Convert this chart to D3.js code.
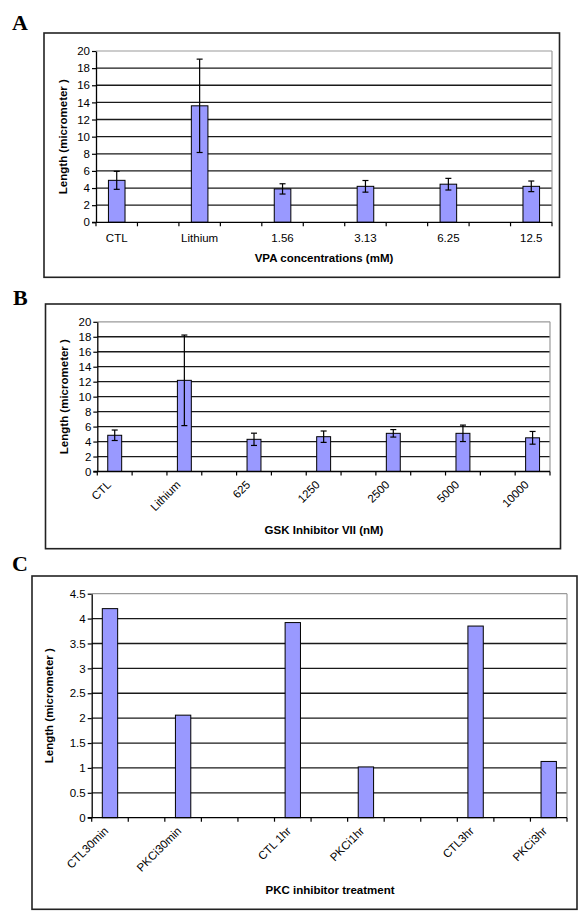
<!DOCTYPE html>
<html>
<head>
<meta charset="utf-8">
<script src="https://cdn.jsdelivr.net/npm/d3@7"></script>
<style>
  html, body { margin: 0; padding: 0; background: #fff; }
  svg { display: block; }
  text { font-family: "Liberation Sans", Arial, sans-serif; fill: #000; }
</style>
</head>
<body>
<svg id="chart" width="582" height="921"></svg>
<script>
// ---------- DATA ----------
// Panel A (blank categories are empty slots in the original spreadsheet)
const catsA = ["CTL", "", "Lithium", "", "1.56", "", "3.13", "", "6.25", "", "12.5"];
const meansA = [4.9, null, 13.6, null, 3.9, null, 4.2, null, 4.45, null, 4.2];
const errA   = [1.05, null, 5.45, null, 0.6, null, 0.68, null, 0.68, null, 0.62];
const yTicksA = [0, 2, 4, 6, 8, 10, 12, 14, 16, 18, 20];

// Panel B
const catsB = ["CTL", "", "Lithium", "", "625", "", "1250", "", "2500", "", "5000", "", "10000"];
const meansB = [4.84, null, 12.18, null, 4.3, null, 4.65, null, 5.1, null, 5.1, null, 4.5];
const errB   = [0.7, null, 6.05, null, 0.82, null, 0.76, null, 0.5, null, 1.1, null, 0.85];
const yTicksB = [0, 2, 4, 6, 8, 10, 12, 14, 16, 18, 20];

// Panel C
const catsC = ["CTL30min", "", "PKCi30min", "", "", "CTL 1hr", "", "PKCi1hr", "", "", "CTL3hr", "", "PKCi3hr"];
const meansC = [4.2, null, 2.06, null, null, 3.92, null, 1.02, null, null, 3.85, null, 1.13];
const yTicksC = [0, 0.5, 1, 1.5, 2, 2.5, 3, 3.5, 4, 4.5];

const yTitle = "Length (micrometer )";

// ---------- DRAWING ----------
const svg = d3.select("#chart");
const BAR = "#9999ff";

function panel(cfg) {
  const g = svg.append("g");
  const [fx0, fy0, fx1, fy1] = cfg.frame;
  const [px0, py0, px1, py1] = cfg.plot;

  // outer frame
  g.append("rect").attr("x", fx0).attr("y", fy0)
    .attr("width", fx1 - fx0).attr("height", fy1 - fy0)
    .attr("fill", "none").attr("stroke", "#222").attr("stroke-width", 1.6);

  // panel letter
  g.append("text").attr("x", cfg.letterPos[0]).attr("y", cfg.letterPos[1])
    .style("font-family", "'Liberation Serif', 'Times New Roman', serif")
    .style("font-weight", "bold").style("font-size", "22px")
    .text(cfg.letter);

  const yMax = cfg.yTicks[cfg.yTicks.length - 1];
  const y = d3.scaleLinear().domain([0, yMax]).range([py1, py0]);
  const x = d3.scaleBand().domain(d3.range(cfg.cats.length)).range([px0, px1]).paddingInner(0).paddingOuter(0);

  // gridlines
  g.append("g").selectAll("line").data(cfg.yTicks.filter(t => t > 0)).join("line")
    .attr("x1", px0).attr("x2", px1)
    .attr("y1", d => y(d)).attr("y2", d => y(d))
    .attr("stroke", d => d === yMax ? "#9a9a9a" : "#1a1a1a")
    .attr("stroke-width", d => d === yMax ? 1.2 : 1.3);
  // right plot border
  g.append("line").attr("x1", px1).attr("x2", px1).attr("y1", py0).attr("y2", py1)
    .attr("stroke", "#9a9a9a").attr("stroke-width", 1.2);

  // bars
  const bw = x.bandwidth() * cfg.barFrac;
  const idx = d3.range(cfg.cats.length).filter(i => cfg.vals[i] != null);
  g.append("g").selectAll("rect").data(idx).join("rect")
    .attr("x", i => x(i) + (x.bandwidth() - bw) / 2)
    .attr("y", i => y(cfg.vals[i]))
    .attr("width", bw)
    .attr("height", i => y(0) - y(cfg.vals[i]))
    .attr("fill", BAR).attr("stroke", "#000").attr("stroke-width", 1);

  // error bars
  if (cfg.errs) {
    const eg = g.append("g").attr("stroke", "#000").attr("stroke-width", 1.2);
    idx.forEach(i => {
      const cx = x(i) + x.bandwidth() / 2;
      const hi = y(cfg.vals[i] + cfg.errs[i]);
      const lo = y(cfg.vals[i] - cfg.errs[i]);
      eg.append("line").attr("x1", cx).attr("x2", cx).attr("y1", hi).attr("y2", lo);
      eg.append("line").attr("x1", cx - 3).attr("x2", cx + 3).attr("y1", hi).attr("y2", hi);
      eg.append("line").attr("x1", cx - 3).attr("x2", cx + 3).attr("y1", lo).attr("y2", lo);
    });
  }

  // y axis
  const ya = g.append("g").attr("transform", `translate(${px0},0)`)
    .call(d3.axisLeft(y).tickValues(cfg.yTicks).tickFormat(d3.format("~g"))
      .tickSizeInner(4).tickSizeOuter(0).tickPadding(2));
  ya.select(".domain").attr("stroke", "#000").attr("stroke-width", 1.3);
  ya.selectAll(".tick line").attr("stroke", "#000").attr("stroke-width", 1.2);
  ya.selectAll(".tick text").style("font-family", "'Liberation Sans', Arial, sans-serif")
    .style("font-size", "11.5px").attr("fill", "#000");

  // x axis line and ticks at slot boundaries
  g.append("line").attr("x1", px0 - 4).attr("x2", px1).attr("y1", py1).attr("y2", py1)
    .attr("stroke", "#000").attr("stroke-width", 1.3);
  const edges = x.domain().map(i => x(i)).concat([px1]);
  g.append("g").selectAll("line").data(edges).join("line")
    .attr("x1", d => d).attr("x2", d => d).attr("y1", py1).attr("y2", py1 + 4)
    .attr("stroke", "#000").attr("stroke-width", 1.2);

  // category labels
  const lab = d3.range(cfg.cats.length).filter(i => cfg.cats[i] !== "");
  const lg = g.append("g");
  if (cfg.rotate) {
    lg.selectAll("text").data(lab).join("text")
      .attr("transform", i => `translate(${x(i) + x.bandwidth() / 2 + cfg.labOff[0]},${py1 + cfg.labOff[1]}) rotate(-45)`)
      .attr("text-anchor", "end")
      .style("font-size", "11.5px")
      .text(i => cfg.cats[i]);
  } else {
    lg.selectAll("text").data(lab).join("text")
      .attr("x", i => x(i) + x.bandwidth() / 2)
      .attr("y", py1 + cfg.labOff[1])
      .attr("text-anchor", "middle")
      .style("font-size", "11.5px")
      .text(i => cfg.cats[i]);
  }

  // axis titles
  g.append("text").attr("x", cfg.xTitlePos[0]).attr("y", cfg.xTitlePos[1])
    .attr("text-anchor", "middle").style("font-weight", "bold").style("font-size", "11.5px")
    .text(cfg.xTitle);
  g.append("text")
    .attr("transform", `translate(${cfg.yTitleX},${(py0 + py1) / 2}) rotate(-90)`)
    .attr("text-anchor", "middle").style("font-weight", "bold").style("font-size", "11.5px")
    .text(yTitle);
}

panel({
  cats: catsA, vals: meansA, errs: errA, yTicks: yTicksA,
  frame: [44, 33, 559.5, 277.3], plot: [96, 51, 552, 222.3],
  letter: "A", letterPos: [12, 30],
  xTitle: "VPA concentrations (mM)", xTitlePos: [324, 261.5], yTitleX: 67,
  rotate: false, labOff: [0, 20], barFrac: 0.4
});

panel({
  cats: catsB, vals: meansB, errs: errB, yTicks: yTicksB,
  frame: [45.5, 304, 560.5, 548.7], plot: [97.3, 321.8, 550, 471.5],
  letter: "B", letterPos: [13, 305],
  xTitle: "GSK Inhibitor VII (nM)", xTitlePos: [324, 533.5], yTitleX: 68,
  rotate: true, labOff: [-3, 14], barFrac: 0.4
});

panel({
  cats: catsC, vals: meansC, errs: null, yTicks: yTicksC,
  frame: [32, 576, 577, 909.3], plot: [91.7, 593.7, 567, 817.7],
  letter: "C", letterPos: [12, 571],
  xTitle: "PKC inhibitor treatment", xTitlePos: [330, 893.5], yTitleX: 53,
  rotate: true, labOff: [-1, 14], barFrac: 0.42
});
</script>
</body>
</html>
